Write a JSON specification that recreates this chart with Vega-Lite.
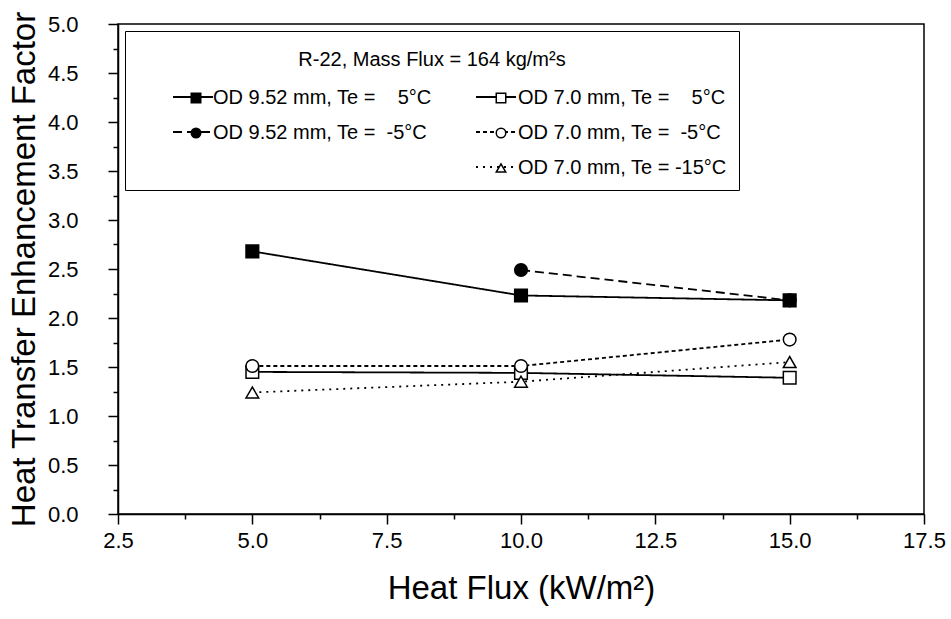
{
  "$schema": "https://vega.github.io/schema/vega-lite/v6.json",
  "width": 806,
  "height": 490,
  "autosize": {"type": "none"},
  "padding": {"left": 118, "top": 24, "right": 27, "bottom": 105},
  "background": "white",
  "config": {
    "font": "Liberation Sans",
    "view": {"stroke": "black", "strokeWidth": 1.5},
    "axis": {
      "grid": false,
      "domainColor": "black",
      "domainWidth": 1.5,
      "tickColor": "black",
      "tickWidth": 1.5,
      "labelColor": "black",
      "labelFont": "Liberation Sans",
      "labelFontSize": 22,
      "labelOverlap": false,
      "labelFlush": false,
      "titleColor": "black",
      "titleFont": "Liberation Sans",
      "titleFontSize": 33,
      "titleFontWeight": "normal"
    },
    "legend": {
      "orient": "none",
      "legendX": 7,
      "direction": "vertical",
      "columns": 2,
      "padding": 12,
      "titleAnchor": "middle",
      "titleFont": "Liberation Sans",
      "titleFontSize": 20,
      "titleFontWeight": "normal",
      "titleLimit": 0,
      "labelFont": "Liberation Sans",
      "labelFontSize": 20,
      "labelLimit": 0
    }
  },
  "data": {
    "values": [
      {"series": "OD 9.52 mm, Te = 5°C", "flux": 5, "factor": 2.68},
      {"series": "OD 9.52 mm, Te = 5°C", "flux": 10, "factor": 2.23},
      {"series": "OD 9.52 mm, Te = 5°C", "flux": 15, "factor": 2.18},
      {"series": "OD 9.52 mm, Te = -5°C", "flux": 10, "factor": 2.49},
      {"series": "OD 9.52 mm, Te = -5°C", "flux": 15, "factor": 2.18},
      {"series": "OD 7.0 mm, Te = 5°C", "flux": 5, "factor": 1.45},
      {"series": "OD 7.0 mm, Te = 5°C", "flux": 10, "factor": 1.44},
      {"series": "OD 7.0 mm, Te = 5°C", "flux": 15, "factor": 1.39},
      {"series": "OD 7.0 mm, Te = -5°C", "flux": 5, "factor": 1.51},
      {"series": "OD 7.0 mm, Te = -5°C", "flux": 10, "factor": 1.51},
      {"series": "OD 7.0 mm, Te = -5°C", "flux": 15, "factor": 1.78},
      {"series": "OD 7.0 mm, Te = -15°C", "flux": 5, "factor": 1.24},
      {"series": "OD 7.0 mm, Te = -15°C", "flux": 10, "factor": 1.35},
      {"series": "OD 7.0 mm, Te = -15°C", "flux": 15, "factor": 1.55}
    ]
  },
  "resolve": {"axis": {"x": "independent", "y": "independent"}},
  "layer": [
    {
      "mark": {"type": "line", "color": "black", "strokeWidth": 1.8},
      "encoding": {
        "x": {
          "field": "flux",
          "type": "quantitative",
          "scale": {"domain": [2.5, 17.5], "nice": false, "zero": false},
          "axis": {
            "orient": "bottom",
            "title": "Heat Flux (kW/m²)",
            "values": [2.5, 5, 7.5, 10, 12.5, 15, 17.5],
            "format": ".1f",
            "tickSize": 10,
            "labelPadding": 6,
            "titlePadding": 21
          }
        },
        "y": {
          "field": "factor",
          "type": "quantitative",
          "scale": {"domain": [0, 5], "nice": false},
          "axis": {
            "orient": "left",
            "title": "Heat Transfer Enhancement Factor",
            "values": [0, 0.5, 1, 1.5, 2, 2.5, 3, 3.5, 4, 4.5, 5],
            "format": ".1f",
            "tickSize": 10,
            "labelPadding": 30,
            "titlePadding": 6
          }
        },
        "strokeDash": {
          "field": "series",
          "type": "nominal",
          "scale": {
            "domain": ["OD 9.52 mm, Te = 5°C", "OD 9.52 mm, Te = -5°C", "  ", "OD 7.0 mm, Te = 5°C", "OD 7.0 mm, Te = -5°C", "OD 7.0 mm, Te = -15°C"],
            "range": [[1, 0], [9, 5], [0, 100], [1, 0], [4, 3], [2, 5]]
          },
          "legend": {
            "title": null,
            "legendY": 40,
            "labelExpr": "'\u00a0'",
            "symbolType": "stroke",
            "symbolSize": 1600,
            "symbolStrokeColor": "black",
            "symbolStrokeWidth": 1.8,
            "symbolOffset": 35,
            "labelOffset": -1,
            "rowPadding": 4,
            "columnPadding": 223
          }
        }
      }
    },
    {
      "mark": {"type": "point", "stroke": "black", "strokeWidth": 1.5, "opacity": 1, "size": 160},
      "encoding": {
        "x": {
          "field": "flux",
          "type": "quantitative",
          "axis": {
            "orient": "bottom",
            "title": null,
            "values": [3.75, 6.25, 8.75, 11.25, 13.75, 16.25],
            "labels": false,
            "domain": false,
            "tickSize": 5
          }
        },
        "y": {
          "field": "factor",
          "type": "quantitative",
          "axis": {
            "orient": "left",
            "title": null,
            "values": [0.25, 0.75, 1.25, 1.75, 2.25, 2.75, 3.25, 3.75, 4.25, 4.75],
            "labels": false,
            "domain": false,
            "tickSize": 5
          }
        },
        "fill": {
          "field": "series",
          "type": "nominal",
          "scale": {
            "domain": ["OD 9.52 mm, Te = 5°C", "OD 9.52 mm, Te = -5°C", " ", "OD 7.0 mm, Te = 5°C", "OD 7.0 mm, Te = -5°C", "OD 7.0 mm, Te = -15°C"],
            "range": ["black", "black", "transparent", "white", "white", "white"]
          },
          "legend": {
            "title": "R-22, Mass Flux = 164 kg/m²s",
            "legendY": 7,
            "titleColor": "black",
            "titleBaseline": "line-top",
            "titleLineHeight": 34,
            "titlePadding": 25,
            "labelColor": "black",
            "strokeColor": "black",
            "rowPadding": 15,
            "columnPadding": 10,
            "symbolSize": 90,
            "symbolStrokeColor": "black",
            "symbolStrokeWidth": 1.5,
            "symbolOffset": 49,
            "labelOffset": 7,
            "labelExpr": "replace(replace(datum.label, '= 5', '=\u00a0\u00a0\u00a0\u00a05'), '= -5', '=\u00a0\u00a0-5')",
            "encode": {
              "legend": {"strokeWidth": {"value": 1.5}},
              "symbols": {"stroke": {"value": "black"}, "strokeWidth": {"value": 1.5}}
            }
          }
        },
        "shape": {
          "field": "series",
          "type": "nominal",
          "scale": {
            "domain": ["OD 9.52 mm, Te = 5°C", "OD 9.52 mm, Te = -5°C", " ", "OD 7.0 mm, Te = 5°C", "OD 7.0 mm, Te = -5°C", "OD 7.0 mm, Te = -15°C"],
            "range": ["square", "circle", "M0,0", "square", "circle", "triangle-up"]
          }
        }
      }
    }
  ]
}
